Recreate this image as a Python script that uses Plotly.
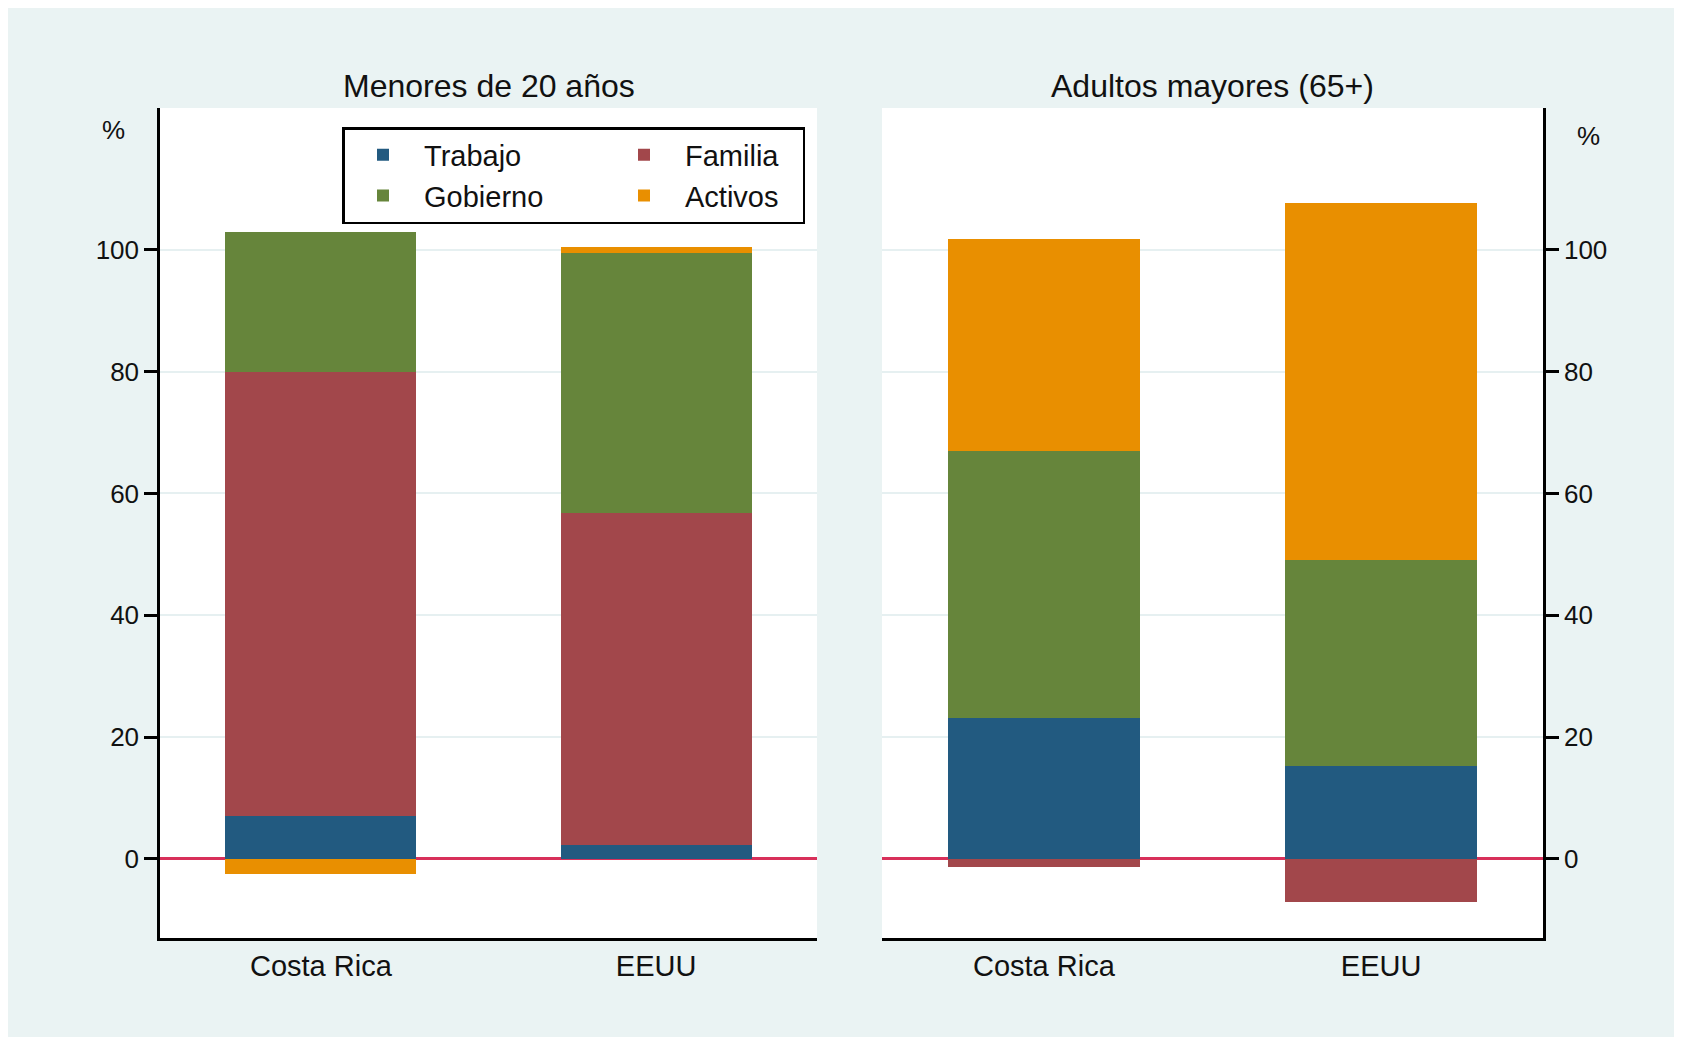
import plotly.graph_objects as go

# page has an 8px body margin; the figure fills the rest of the 1682x1045 window
PAGE_W, PAGE_H = 1682, 1045
OFF = 8
W, H = PAGE_W - 2 * OFF, PAGE_H - 2 * OFF

titulos = ["Menores de 20 años", "Adultos mayores (65+)"]
paises = ["Costa Rica", "EEUU"]
fuentes = ["Trabajo", "Familia", "Gobierno", "Activos"]
colores = ["#225a80", "#a2474b", "#66853b", "#e98f00"]
columnas_leyenda = ["col1", "col2", "col1", "col2"]
ancho_leyenda = {"col1": 174, "col2": 112}

menores_trabajo = [7.0, 2.2]
menores_familia = [72.9, 54.6]
menores_gobierno = [23.1, 42.7]
menores_activos = [-2.5, 1.0]

mayores_trabajo = [23.1, 15.3]
mayores_familia = [-1.3, -7.1]
mayores_gobierno = [43.8, 33.8]
mayores_activos = [34.9, 58.6]

y_ticks = [0, 20, 40, 60, 80, 100]

paneles = [
    [menores_trabajo, menores_familia, menores_gobierno, menores_activos],
    [mayores_trabajo, mayores_familia, mayores_gobierno, mayores_activos],
]

FONT = "Liberation Sans, Arial, Helvetica, sans-serif"
INK = "#111111"


def fx(p):
    return (p - OFF) / W


def fy(p):
    return 1 - (p - OFF) / H


fig = go.Figure()
for i, serie in enumerate(paneles):
    xa = "x" if i == 0 else "x2"
    ya = "y" if i == 0 else "y2"
    for nombre, valores, color, grp in zip(fuentes, serie, colores, columnas_leyenda):
        fig.add_trace(go.Bar(
            x=paises, y=valores, name=nombre,
            marker=dict(color=color, line=dict(width=0)),
            width=0.57, xaxis=xa, yaxis=ya,
            legendgroup=grp, showlegend=(i == 0),
            legendwidth=ancho_leyenda[grp],
        ))

xcommon = dict(
    type="category", range=[-0.48, 1.48], showline=True, linecolor="black",
    linewidth=2.5, ticks="", showgrid=False, zeroline=False,
    tickfont=dict(size=29, color=INK, family=FONT), fixedrange=True,
)
ycommon = dict(
    range=[-13, 123.3], showline=True, linecolor="black", linewidth=2.5,
    ticks="outside", ticklen=13, tickwidth=2.5, tickcolor="black",
    tickvals=y_ticks, showgrid=True, gridcolor="#e6f0f1", gridwidth=1.5,
    zeroline=True, zerolinecolor="#d8305a", zerolinewidth=2.6,
    tickfont=dict(size=26, color=INK, family=FONT),
    domain=[fy(938), fy(108)], fixedrange=True,
)

fig.update_layout(
    width=W, height=H, margin=dict(l=0, r=0, t=0, b=0),
    paper_bgcolor="#eaf3f3", plot_bgcolor="white",
    font=dict(family=FONT, color=INK),
    barmode="relative", bargap=0,
    xaxis=dict(domain=[fx(160), fx(817)], anchor="y", **xcommon),
    xaxis2=dict(domain=[fx(882), fx(1543)], anchor="y2", **xcommon),
    yaxis=dict(anchor="x", side="left", **ycommon),
    yaxis2=dict(anchor="x2", side="right", **ycommon),
    legend=dict(
        orientation="h", traceorder="grouped",
        x=fx(342), y=fy(127), xanchor="left", yanchor="top",
        bgcolor="white", bordercolor="black", borderwidth=2.5,
        font=dict(size=29, color=INK, family=FONT),
        itemwidth=72,
    ),
    annotations=[
        dict(text=titulos[0], x=(fx(160) + fx(817)) / 2, y=fy(86), xref="paper", yref="paper",
             showarrow=False, xanchor="center", yanchor="middle", font=dict(size=32, color=INK)),
        dict(text=titulos[1], x=(fx(882) + fx(1543)) / 2, y=fy(86), xref="paper", yref="paper",
             showarrow=False, xanchor="center", yanchor="middle", font=dict(size=32, color=INK)),
        dict(text="%", x=fx(113), y=fy(130), xref="paper", yref="paper",
             showarrow=False, xanchor="center", yanchor="middle", font=dict(size=26, color=INK)),
        dict(text="%", x=fx(1588), y=fy(136), xref="paper", yref="paper",
             showarrow=False, xanchor="center", yanchor="middle", font=dict(size=26, color=INK)),
    ],
)

fig.write_html("out.html")
